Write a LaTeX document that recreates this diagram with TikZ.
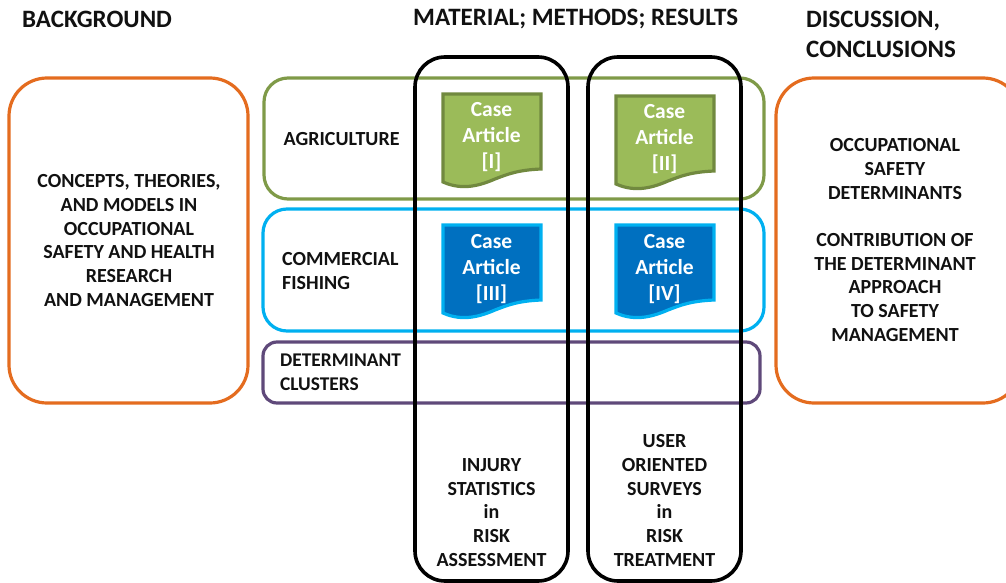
\documentclass[tikz,border=0pt]{standalone}
\usepackage{fontspec}
\setmainfont{Carlito}
\definecolor{orangeb}{HTML}{E46C1F}
\definecolor{greenb}{HTML}{7F9A48}
\definecolor{greenf}{HTML}{9BBB59}
\definecolor{greend}{HTML}{71893F}
\definecolor{blueb}{HTML}{00B0F0}
\definecolor{bluef}{HTML}{0070C0}
\definecolor{purpleb}{HTML}{5F497A}
\definecolor{txt}{HTML}{111111}
\tikzset{
  x=1pt,y=-1pt,
  lbl/.style={font=\fontsize{20}{23.7}\selectfont\bfseries,text=txt,align=center,inner sep=0pt,anchor=center},
  head/.style={font=\fontsize{25}{30}\selectfont\bfseries,text=txt,align=left,inner sep=0pt,anchor=west},
  doctxt/.style={font=\fontsize{21.5}{26}\selectfont\bfseries,text=white,align=center,inner sep=0pt,anchor=center},
  panel/.style={draw,line width=3.2pt,rounded corners=#1,fill=none,inner sep=0pt,outer sep=0pt,anchor=north west},
  panel/.default=24pt
}
\newcommand{\docshape}[4]{% x, y, fill, border
  \begin{scope}[shift={(#1,#2)}]
  \draw[line width=3.2pt,line join=miter,draw=#4,fill=#3]
    (0,0) -- (98,0) -- (98,75)
    .. controls (75,76) and (65,80) .. (52,85)
    .. controls (38,91) and (20,97) .. (0,88) -- cycle;
  \end{scope}
}
\begin{document}
\begin{tikzpicture}
\useasboundingbox (0,0) rectangle (1006,583);
\clip (0,0) rectangle (1006,583);

\node[panel=38pt,draw=orangeb,minimum width=239pt,minimum height=325pt] (bg) at (9,78) {};
\node[panel=24pt,draw=greenb,minimum width=500pt,minimum height=121pt] (agri) at (264,78) {};
\node[panel=24pt,draw=blueb,minimum width=501pt,minimum height=122pt] (fish) at (263,209) {};
\node[panel=14pt,draw=purpleb,minimum width=497pt,minimum height=61pt] (clus) at (263,342) {};
\node[panel=38pt,draw=orangeb,minimum width=245pt,minimum height=325pt] (disc) at (776,78) {};

\docshape{443}{94}{greenf}{greend}
\docshape{616}{96}{greenf}{greend}
\docshape{443}{225}{bluef}{blueb}
\docshape{616}{225}{bluef}{blueb}

\node[panel=30pt,draw=black,line width=3.6pt,minimum width=153pt,minimum height=524pt] (col1) at (415,57) {};
\node[panel=30pt,draw=black,line width=3.6pt,minimum width=153pt,minimum height=524pt] (col2) at (588,57) {};

\node[doctxt] (d1) at (491.5,137.5) {Case\\Article\\{[I]}};
\node[doctxt] (d2) at (664.5,139.5) {Case\\Article\\{[II]}};
\node[doctxt] (d3) at (491.5,269.5) {Case\\Article\\{[III]}};
\node[doctxt] (d4) at (664.5,269.5) {Case\\Article\\{[IV]}};

\node[head] (h1) at (22,19) {BACKGROUND};
\node[head] (h2) at (413,19) {MATERIAL; METHODS; RESULTS};
\node[head] (h3) at (806,34.5) {DISCUSSION,\\CONCLUSIONS};

\node[lbl] (t1) at (129,240.5) {CONCEPTS, THEORIES,\\AND MODELS IN\\OCCUPATIONAL\\SAFETY AND HEALTH\\RESEARCH\\AND MANAGEMENT};
\node[lbl,align=left,anchor=west] (t2) at (283.5,139) {AGRICULTURE};
\node[lbl,align=left,anchor=west] (t3) at (282,271) {COMMERCIAL\\FISHING};
\node[lbl,font=\fontsize{19.4}{23.7}\selectfont\bfseries,align=left,anchor=west] (t4) at (280,372.5) {DETERMINANT\\CLUSTERS};
\node[lbl] (t5) at (491.5,512.5) {INJURY\\STATISTICS\\in\\RISK\\ASSESSMENT};
\node[lbl] (t6) at (664.5,500.5) {USER\\ORIENTED\\SURVEYS\\in\\RISK\\TREATMENT};
\node[lbl] (t7) at (895,240) {OCCUPATIONAL\\SAFETY\\DETERMINANTS\\[23.7pt]CONTRIBUTION OF\\THE DETERMINANT\\APPROACH\\TO SAFETY\\MANAGEMENT};
\end{tikzpicture}
\end{document}
